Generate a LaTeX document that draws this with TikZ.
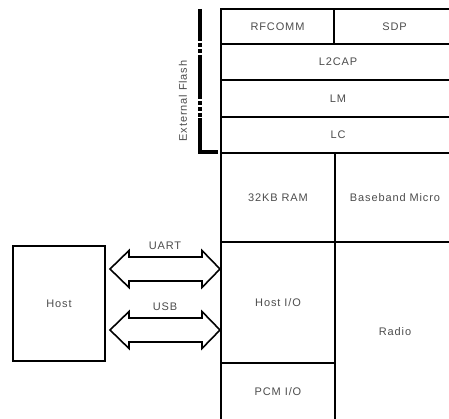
\documentclass[tikz,border=0pt]{standalone}
\usepackage{fontspec}
\setmainfont{Liberation Sans}[LetterSpace=8]
\begin{document}
\begin{tikzpicture}[x=1pt,y=-1pt,
  cell/.style={draw=black, line width=1.6pt, inner sep=0pt, text=black!70,
    font=\fontsize{11}{13}\selectfont},
  lbl/.style={inner sep=0pt, text=black!70, font=\fontsize{11}{13}\selectfont},
  blk/.style={draw=black, line width=1.6pt, line join=miter},
  brk/.style={draw=black, line width=3.2pt}]
\useasboundingbox (0,0) rectangle (449,419);
\clip (0,0) rectangle (449,419);
% stack
\node[cell, minimum width=113pt, minimum height=35pt] (rfcomm) at (277.5,26.5) {RFCOMM};
\node[cell, minimum width=121pt, minimum height=35pt] (sdp) at (394.5,26.5) {SDP};
\node[cell, minimum width=234pt, minimum height=36pt] (l2cap) at (338,62) {L2CAP};
\node[cell, minimum width=234pt, minimum height=37pt] (lm) at (338,98.5) {LM};
\node[cell, minimum width=234pt, minimum height=36pt] (lc) at (338,135) {LC};
\node[cell, minimum width=114pt, minimum height=89pt] (ram) at (278,197.5) {32KB RAM};
\node[cell, minimum width=120pt, minimum height=89pt] (bb) at (395,197.5) {Baseband Micro};
\node[cell, minimum width=114pt, minimum height=121pt] (hostio) at (278,302.5) {Host I/O};
\node[cell, minimum width=114pt, minimum height=58pt] (pcm) at (278,392) {PCM I/O};
\node[cell, minimum width=120pt, minimum height=179pt] (radio) at (395,331.5) {Radio};
% host
\node[cell, minimum width=92pt, minimum height=115pt] (host) at (59,303.5) {Host};
% bracket
\coordinate (b0) at (200,9);
\coordinate (b1) at (200,37);
\coordinate (b2) at (200,58);
\coordinate (b3) at (200,95);
\coordinate (b4) at (200,118);
\coordinate (b5) at (200,152);
\coordinate (b6) at (218,152);
\draw[brk] (b0) -- (b1);
\draw[brk, dash pattern=on 4pt off 2pt] (b1) -- (b2);
\draw[brk] (b2) -- (b3);
\draw[brk, dash pattern=on 4pt off 2pt] (b3) -- (b4);
\draw[brk] (b4) -- (b5) -- (b6);
\node[lbl, rotate=90] (flash) at (183,101) {External Flash};
% arrows
\foreach \c/\n/\t in {269/uart/UART, 330/usb/USB}{
  \draw[blk] (110,\c) -- (129,\c-18.5) -- (129,\c-12) -- (202,\c-12) -- (202,\c-18.5)
    -- (220,\c) -- (202,\c+18.5) -- (202,\c+12) -- (129,\c+12) -- (129,\c+18.5) -- cycle;
  \node[lbl] (\n) at (165,\c-23) {\t};
}
\end{tikzpicture}
\end{document}
